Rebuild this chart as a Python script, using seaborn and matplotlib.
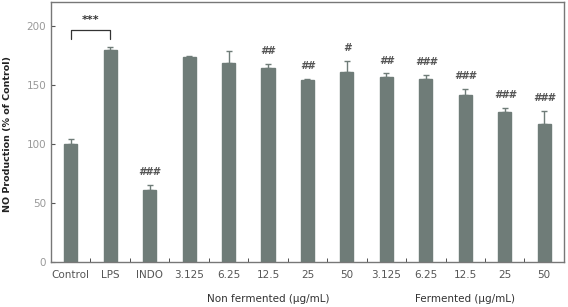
import matplotlib
matplotlib.use("Agg")
import matplotlib.pyplot as plt
import seaborn as sns
import pandas as pd
import numpy as np

categories = ["Control", "LPS", "INDO", "3.125", "6.25", "12.5", "25", "50",
              "3.125 ", "6.25 ", "12.5 ", "25 ", "50 "]
tick_labels = ["Control", "LPS", "INDO", "3.125", "6.25", "12.5", "25", "50",
               "3.125", "6.25", "12.5", "25", "50"]
values = [100, 179, 61, 173.3, 168.5, 163.7, 153.6, 160.8, 156.4, 154.9, 141.1, 126.7, 116.3]
errors = [4, 3, 4, 0.8, 10, 4, 1.5, 9, 3, 3, 4.8, 3.4, 11]
marks = ["", "", "###", "", "", "##", "##", "#", "##", "###", "###", "###", "###"]
group_labels = ["Non fermented (\u03bcg/mL)", "Fermented (\u03bcg/mL)"]

sns.set_style("white")
plt.rcParams['font.family'] = ['DejaVu Sans']

df = pd.DataFrame({"cat": categories, "val": values})
fig = plt.figure(figsize=(5.68, 3.07), dpi=100)
ax = fig.add_axes([0.0898, 0.148, 0.903, 0.8455])

bar_color = "#6f7c78"
sns.barplot(data=df, x="cat", y="val", color=bar_color, width=0.33,
            saturation=1, errorbar=None, ax=ax, edgecolor=bar_color)
x = np.arange(len(categories))
ax.errorbar(x, values, yerr=[np.zeros(len(errors)), errors], fmt="none",
            ecolor="#6f7c78", elinewidth=1.0, capsize=2.5, capthick=1.0)

ax.set_xlim(-0.5, len(categories) - 0.5)
ax.set_ylim(0, 220)
ax.set_yticks([0, 50, 100, 150, 200])
ax.set_xticks(x)
ax.set_xticklabels(tick_labels, fontsize=7.5, color="#555555")
ax.tick_params(axis="y", labelsize=7.5, labelcolor="#999999", direction="in",
               length=3, color="#555555", left=True)
ax.tick_params(axis="x", which="major", length=0, pad=6)
ax.set_xticks(np.arange(0.5, len(categories) - 1, 1), minor=True)
ax.tick_params(axis="x", which="minor", direction="in", length=3, color="#333333",
               bottom=True)
ax.set_xlabel("")
ax.set_ylabel("NO Production (% of Control)", fontsize=6.8, fontweight="bold",
              color="#222222")
ax.yaxis.set_label_coords(-0.076, 0.49)
for s in ax.spines.values():
    s.set_color("#777777")
    s.set_linewidth(1.0)

for xi, v, e, m in zip(x, values, errors, marks):
    if m:
        ax.text(xi, v + e + 11, m, ha="center", va="center", fontsize=7.5,
                fontstyle="italic", fontweight="bold", color="#555555")

# significance bracket Control vs LPS
ax.plot([0, 0, 1, 1], [188.5, 196, 196, 188.5], color="#333333", lw=0.9)
ax.text(0.5, 205, "***", ha="center", va="center", fontsize=8,
        fontweight="bold", color="#333333")

ax.text(5, -32, group_labels[0], ha="center", va="center", fontsize=7.5,
        color="#333333", transform=ax.transData, clip_on=False)
ax.text(10, -32, group_labels[1], ha="center", va="center", fontsize=7.5,
        color="#333333", transform=ax.transData, clip_on=False)

fig.savefig("out.png", dpi=100)
